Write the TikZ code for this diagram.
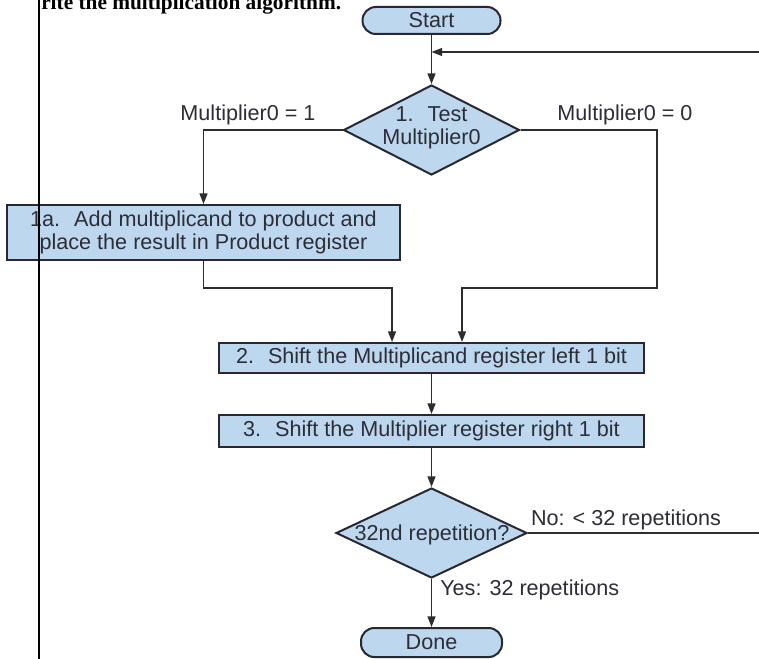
\documentclass[tikz,border=0pt]{standalone}
\usepackage{fontspec}
\setmainfont{Liberation Sans}
\newfontfamily\titlefont{Liberation Serif}
\usetikzlibrary{shapes.geometric,arrows.meta}
\definecolor{boxfill}{RGB}{189,215,238}
\definecolor{boxdraw}{RGB}{40,40,48}
\definecolor{txt}{RGB}{45,45,55}
\definecolor{linec}{RGB}{45,45,45}
\begin{document}
\begin{tikzpicture}[x=0.75pt,y=-0.75pt,
  every node/.style={font=\fontsize{16.2}{17.25}\selectfont, text=txt},
  procbox/.style={draw=boxdraw, fill=boxfill, line width=1.5pt, inner sep=0pt, align=center},
  term/.style={procbox, rounded corners=10pt},
  decision/.style={draw=boxdraw, fill=boxfill, line width=1.5pt, diamond, inner sep=0pt},
  conn/.style={draw=linec, line width=1.1pt},
  arr/.style={conn, -{Triangle[length=8pt,width=6pt]}},
  lbl/.style={inner sep=0pt}
]
\useasboundingbox (0,0) rectangle (759,659);
\clip (0,0) rectangle (759,659);
\fill[white] (0,0) rectangle (759,659);

\node[anchor=base west, inner sep=0pt, font=\titlefont\bfseries\fontsize{16}{18}\selectfont, text=black] (title) at (41,10) {rite the multiplication algorithm.};

\node[term, minimum width=103.5pt, minimum height=20.25pt] (start) at (431.5,20.5) {Start};
\node[decision, minimum width=132pt, minimum height=67.5pt] (d1) at (431.5,130) {};
\node[lbl, align=center] (d1t) at (431.5,128) {1.~ Test\\Multiplier0};
\node[procbox, minimum width=294.75pt, minimum height=41.25pt] (b1) at (203.5,232.5) {1a.~ Add multiplicand to product and\\place the result in Product register};
\node[procbox, minimum width=318.75pt, minimum height=22.5pt] (b2) at (431.5,358) {2.~ Shift the Multiplicand register left 1 bit};
\node[procbox, minimum width=318.75pt, minimum height=24pt] (b3) at (431.5,431) {3.~ Shift the Multiplier register right 1 bit};
\node[decision, minimum width=143.25pt, minimum height=67.5pt] (d2) at (431.5,533) {};
\node[lbl] (d2t) at (432,535) {32nd repetition?};
\node[term, minimum width=105.75pt, minimum height=21.75pt] (done) at (431.5,642.5) {Done};

\node[lbl] (l1) at (248,115) {Multiplier0 = 1};
\node[lbl] (l0) at (625,115) {Multiplier0 = 0};
\node[lbl] (lno) at (626,520) {No: < 32 repetitions};
\node[lbl, anchor=west] (lyes) at (440,590) {Yes: 32 repetitions};

\coordinate (loopR) at (759,52);
\coordinate (noR) at (759,533);
\coordinate (rc) at (657,288);
\coordinate (rin) at (462,288);
\coordinate (lin) at (392,288);

\draw[arr] (start.south) -- (d1.north);
\draw[arr] (loopR) -- (start.south |- loopR);
\draw[arr] (d1.west) -| (b1.north);
\draw[arr] (d1.east) -| (rc) -- (rin) -- (rin |- b2.north);
\draw[arr] (b1.south) |- (lin) -- (lin |- b2.north);
\draw[arr] (b2.south) -- (b3.north);
\draw[arr] (b3.south) -- (d2.north);
\draw[arr] (d2.south) -- (done.north);
\draw[conn] (d2.east) -- (noR);

\draw[line width=2pt, black] (39,0) -- (39,659);
\end{tikzpicture}
\end{document}
